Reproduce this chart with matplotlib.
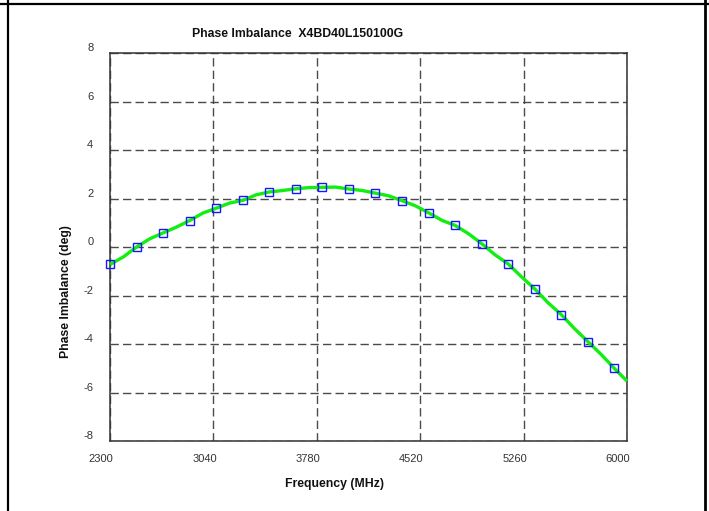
import matplotlib
matplotlib.use("Agg")
import matplotlib.pyplot as plt
from matplotlib.lines import Line2D
from matplotlib.transforms import ScaledTranslation

plt.rcParams['font.family'] = ['Liberation Sans', 'DejaVu Sans']

# Measured points (square markers)
marker_freq = [2300, 2490, 2680, 2870, 3060, 3250, 3440, 3630, 3820, 4010,
               4200, 4390, 4580, 4770, 4960, 5150, 5340, 5530, 5720, 5910]
marker_val = [-0.70, -0.02, 0.58, 1.09, 1.60, 1.92, 2.27, 2.40, 2.46, 2.39,
              2.22, 1.91, 1.41, 0.89, 0.14, -0.70, -1.73, -2.79, -3.90, -5.01]

# Continuous trace (green)
trace_freq = [2300, 2395, 2490, 2585, 2680, 2775, 2870, 2965, 3060, 3155,
              3250, 3345, 3440, 3535, 3630, 3725, 3820, 3915, 4010, 4105,
              4200, 4295, 4390, 4485, 4580, 4675, 4770, 4865, 4960, 5055,
              5150, 5245, 5340, 5435, 5530, 5625, 5720, 5815, 5910, 6000]
trace_val = [-0.72, -0.41, 0.00, 0.34, 0.58, 0.82, 1.09, 1.40, 1.60, 1.81,
             1.92, 2.15, 2.27, 2.33, 2.40, 2.45, 2.46, 2.47, 2.39, 2.33,
             2.22, 2.11, 1.91, 1.70, 1.41, 1.10, 0.89, 0.55, 0.14, -0.32,
             -0.70, -1.23, -1.73, -2.30, -2.79, -3.37, -3.90, -4.43, -5.01, -5.53]

x_ticks = [2300, 3040, 3780, 4520, 5260, 6000]
y_ticks = [-8, -6, -4, -2, 0, 2, 4, 6, 8]

title = "Phase Imbalance  X4BD40L150100G"
xlabel = "Frequency (MHz)"
ylabel = "Phase Imbalance (deg)"

W, H = 709, 511
fig = plt.figure(figsize=(W / 100, H / 100), dpi=100)
ax = fig.add_axes([110 / W, 1 - 441 / H, 517 / W, 388 / H])

ax.set_xlim(2300, 6000)
ax.set_ylim(-8, 8)
ax.set_xticks(x_ticks)
ax.set_yticks(y_ticks)
ax.set_xticklabels([str(t) for t in x_ticks])
ax.set_yticklabels([str(t) for t in y_ticks])
ax.tick_params(length=0, labelsize=8, labelcolor='#333333')
ax.tick_params(axis='x', pad=9)
ax.tick_params(axis='y', pad=12)

for lbl in ax.get_xticklabels():
    lbl.set_transform(lbl.get_transform() + ScaledTranslation(-0.09, 0, fig.dpi_scale_trans))
for lbl in ax.get_yticklabels():
    lbl.set_transform(lbl.get_transform() + ScaledTranslation(0, 0.056, fig.dpi_scale_trans))

ax.grid(True, color='#4a4a4a', linestyle=(0, (6, 3)), linewidth=1.0)
ax.set_axisbelow(True)
for s in ax.spines.values():
    s.set_color('#333333')
    s.set_linewidth(1.1)

ax.plot(trace_freq, trace_val, color='#11EE11', linewidth=2.4, zorder=3,
        solid_capstyle='butt', clip_on=False)
ax.plot(marker_freq, marker_val, linestyle='none', marker='s', markersize=5.5,
        markerfacecolor='none', markeredgecolor='#1515FF', markeredgewidth=1.0,
        zorder=4, clip_on=False)

fig.text(297.7 / W, 1 - 36.7 / H, title, ha='center', va='baseline',
         fontsize=8.8, fontweight='bold', color='#111111')
fig.text(334.5 / W, 1 - 487 / H, xlabel, ha='center', va='baseline',
         fontsize=8.8, fontweight='bold', color='#111111')
fig.text(66 / W, 1 - 291.5 / H, ylabel, ha='center', va='center', rotation=90,
         fontsize=8.8, fontweight='bold', color='#111111')

# Frame lines around the figure (top, left, right)
fig.add_artist(Line2D([0, 1], [1 - 4 / H, 1 - 4 / H], transform=fig.transFigure,
                      color='black', linewidth=1.6))
fig.add_artist(Line2D([8.3 / W, 8.3 / W], [0, 1], transform=fig.transFigure,
                      color='black', linewidth=1.6))
fig.add_artist(Line2D([705 / W, 705 / W], [0, 1], transform=fig.transFigure,
                      color='black', linewidth=2.0))

fig.savefig("out.png", dpi=100)
